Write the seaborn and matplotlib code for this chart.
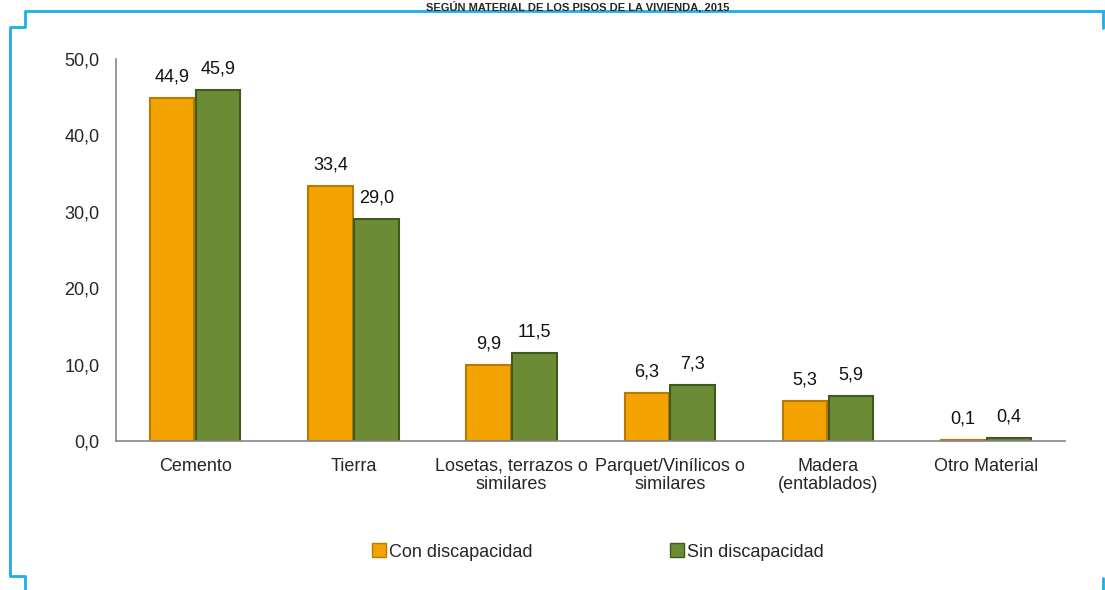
import numpy as np
import pandas as pd
import seaborn as sns
import matplotlib.pyplot as plt
from matplotlib.lines import Line2D

categorias = ["Cemento", "Tierra", "Losetas, terrazos o\nsimilares",
              "Parquet/Vinílicos o\nsimilares", "Madera\n(entablados)", "Otro Material"]
con_discapacidad = [44.9, 33.4, 9.9, 6.3, 5.3, 0.1]
sin_discapacidad = [45.9, 29.0, 11.5, 7.3, 5.9, 0.4]
series = ["Con discapacidad", "Sin discapacidad"]
titulo = "SEGÚN MATERIAL DE LOS PISOS DE LA VIVIENDA, 2015"

df = pd.DataFrame({
    "categoria": categorias * 2,
    "valor": con_discapacidad + sin_discapacidad,
    "serie": [series[0]] * len(categorias) + [series[1]] * len(categorias),
})

sns.set_style("white")
plt.rcParams['font.family'] = ['Liberation Sans', 'DejaVu Sans']

colores = {"Con discapacidad": "#F5A300", "Sin discapacidad": "#6B8C35"}
bordes = {"Con discapacidad": "#B87A00", "Sin discapacidad": "#3F5A1E"}

fig = plt.figure(figsize=(11.05, 5.9), dpi=100)
ax = fig.add_axes([0.105, 0.2525, 0.859, 0.6475])

sns.barplot(data=df, x="categoria", y="valor", hue="serie", palette=colores,
            width=0.58, gap=0.03, ax=ax, legend=False, saturation=1)

for cont, s in zip(ax.containers, series):
    for bar in cont:
        bar.set_edgecolor(bordes[s])
        bar.set_linewidth(1.5)
    ax.bar_label(cont, labels=[f"{v:.1f}".replace(".", ",") for v in cont.datavalues],
                 padding=9, fontsize=13, color="#111111")

ax.set_ylim(0, 50)
ax.set_xlim(-0.5, 5.5)
ax.set_yticks(np.arange(0, 51, 10))
ax.set_yticklabels([f"{v:.1f}".replace(".", ",") for v in np.arange(0, 51, 10)], fontsize=13)
ax.set_xticks(range(len(categorias)))
ax.set_xticklabels(categorias, fontsize=13, linespacing=1.1)
ax.set_xticks(np.arange(-0.5, 5.6, 1), minor=True)
ax.tick_params(axis="x", which="major", length=0, pad=12)
ax.tick_params(axis="x", which="minor", length=6, color="#888888", width=1.2)
ax.tick_params(axis="y", length=6, color="#888888", width=1.2, pad=6)
ax.set_xlabel("")
ax.set_ylabel("")
for side in ["top", "right"]:
    ax.spines[side].set_visible(False)
for side in ["left", "bottom"]:
    ax.spines[side].set_color("#888888")
    ax.spines[side].set_linewidth(1.2)

handles = [Line2D([0], [0], marker="s", linestyle="", markersize=10,
                  markerfacecolor=colores[s], markeredgecolor=bordes[s]) for s in series]
fig.legend(handles, series, loc="center", bbox_to_anchor=(0.5403, 0.064), ncol=2,
           frameon=False, fontsize=13, columnspacing=7.5, handletextpad=0.05,
           handlelength=1.0)

# marco azul
azul = "#1AAFE6"
W, H = 1105, 590
def linea(xs, ys):
    fig.add_artist(Line2D([x / W for x in xs], [1 - y / H for y in ys],
                          color=azul, linewidth=2, transform=fig.transFigure))
linea([1105, 25, 25, 10, 10, 25, 25], [11, 11, 27, 27, 576, 576, 590])
linea([1103, 1103], [11, 28])
linea([1103, 1103], [578, 590])

fig.text(0.523, 1 - 1 / H, titulo, ha="center", va="top", fontsize=8,
         fontweight="bold")

fig.savefig("out.png", dpi=100)
